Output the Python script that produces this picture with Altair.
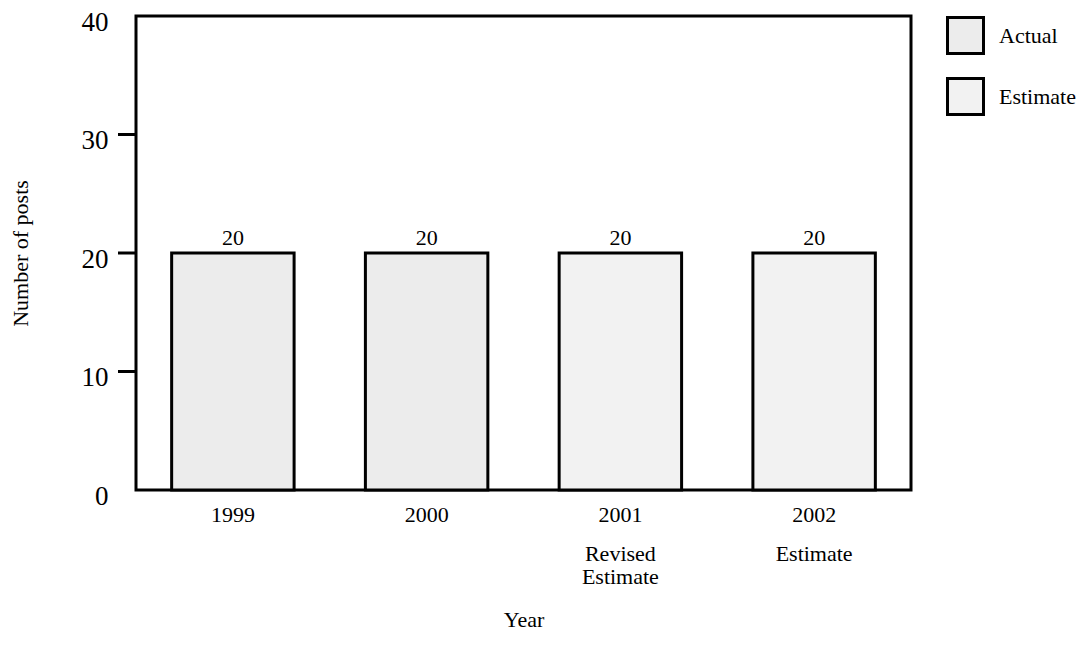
import json
import altair as alt
import pandas as pd

years = ["1999", "2000", "2001", "2002"]
posts = [20, 20, 20, 20]
kinds = ["Actual", "Actual", "Estimate", "Estimate"]
sublabels = [[], [], ["Revised", "Estimate"], ["Estimate"]]
legend_labels = ["Actual", "Estimate"]
fills = ["#ececec", "#f2f2f2"]
y_ticks = [0, 10, 20, 30, 40]
y_tick_marks = [10, 20, 30]

FONT = "Liberation Serif"

df = pd.DataFrame({"year": years, "posts": posts, "kind": kinds})
ticks_df = pd.DataFrame({"v": y_tick_marks})

parts = []
for yr, sub in zip(years, sublabels):
    if sub:
        parts.append(f"datum.value == '{yr}' ? {json.dumps(sub)}")
sub_expr = " : ".join(parts + ["''"])

yscale = alt.Scale(domain=[0, 40], nice=False, zero=True)
xscale = alt.Scale(paddingInner=0.368, paddingOuter=0.184)

x_axis = alt.Axis(
    title="Year",
    orient="bottom",
    labelAngle=0,
    labelFont=FONT,
    labelFontSize=22,
    labelColor="black",
    labelPadding=14,
    ticks=False,
    domain=False,
    titleFont=FONT,
    titleFontSize=22,
    titleFontWeight="normal",
    titleColor="black",
    titleBaseline="middle",
    titleY=129,
)

x_sub_axis = alt.Axis(
    title=None,
    orient="bottom",
    labelAngle=0,
    labelFont=FONT,
    labelFontSize=22,
    labelColor="black",
    labelPadding=53,
    labelLineHeight=23,
    labelExpr=sub_expr,
    ticks=False,
    domain=False,
    grid=False,
)

y_axis = alt.Axis(
    values=y_ticks,
    title="Number of posts",
    labelFont=FONT,
    labelFontSize=27,
    labelColor="black",
    labelPadding=28,
    labelOffset=6,
    tickSize=0,
    ticks=False,
    domain=False,
    grid=False,
    titleFont=FONT,
    titleFontSize=22,
    titleFontWeight="normal",
    titleColor="black",
    titleAngle=270,
    titleBaseline="middle",
    titleAlign="center",
    titleX=-116,
    titleY=237,
)

x_enc = alt.X("year:N", sort=years, scale=xscale, axis=x_axis)
y_enc = alt.Y("posts:Q", scale=yscale, axis=y_axis)

bars = alt.Chart(df).mark_bar(stroke="black", strokeWidth=3, opacity=1).encode(
    x=x_enc,
    y=y_enc,
    fill=alt.Fill(
        "kind:N",
        scale=alt.Scale(domain=legend_labels, range=fills),
        legend=alt.Legend(
            title=None,
            orient="none",
            legendX=810,
            legendY=0,
            symbolType="square",
            symbolSize=1296,
            symbolStrokeWidth=3,
            symbolStrokeColor="black",
            symbolOpacity=1,
            labelFont=FONT,
            labelFontSize=22,
            labelColor="black",
            labelOffset=14,
            rowPadding=12,
            padding=0,
        ),
    ),
)

texts = alt.Chart(df).mark_text(
    dy=-8, baseline="alphabetic", font=FONT, fontSize=22, color="black"
).encode(
    x=alt.X("year:N", sort=years, scale=xscale, axis=x_sub_axis),
    y=y_enc,
    text="posts:Q",
)

tick_rules = alt.Chart(ticks_df).mark_rule(stroke="black", strokeWidth=3).encode(
    y=alt.Y("v:Q", scale=yscale, axis=y_axis),
    x=alt.value(-18),
    x2=alt.value(0),
)

chart = (
    alt.layer(bars, texts, tick_rules)
    .resolve_axis(x="independent")
    .properties(
        width=775,
        height=474,
        autosize=alt.AutoSizeParams(type="none"),
        padding={"left": 128, "top": 8, "right": 172, "bottom": 142},
        background="white",
    )
    .configure_view(stroke="black", strokeWidth=3)
)

chart.save("out.html", embed_options={"renderer": "svg", "actions": False})
